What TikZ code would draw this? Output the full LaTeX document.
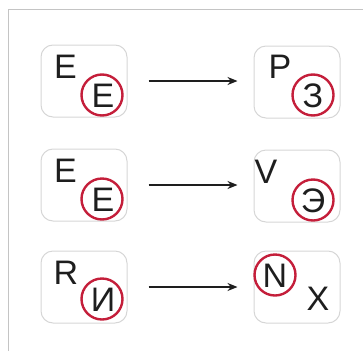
\documentclass[tikz,border=0pt]{standalone}
\usepackage{fontspec}
\setmainfont{Liberation Sans}
\usetikzlibrary{arrows.meta}
\definecolor{ringred}{HTML}{C41E3A}
\definecolor{boxgray}{HTML}{D6D6D6}
\definecolor{framegray}{HTML}{C4C4C4}
\definecolor{ink}{HTML}{1E1E1E}
\begin{document}
\begin{tikzpicture}[x=1pt,y=-1pt,
  box/.style={draw=boxgray, line width=1pt, rounded corners=12pt, minimum width=86pt, minimum height=72pt, inner sep=0pt},
  letter/.style={inner sep=0pt, text=ink, font=\fontsize{34}{34}\selectfont},
  ring/.style={draw=ringred, line width=2.4pt, circle, minimum size=41pt, inner sep=0pt},
  conn/.style={draw=ink, line width=1.3pt, -{Stealth[length=10pt,width=8pt]}, shorten <=21pt, shorten >=16pt}]
\useasboundingbox (0,0) rectangle (363,351);
\draw[framegray, line width=1pt] (8,351) -- (8,9) -- (363,9);
% boxes
\node[box] (L1) at (84,81) {};
\node[box] (R1) at (297,82) {};
\node[box] (L2) at (84,185) {};
\node[box] (R2) at (297,186) {};
\node[box] (L3) at (84,287) {};
\node[box] (R3) at (297,287) {};
% row 1
\node[letter] (a1) at (65.5,67) {E};
\node[ring] (c1) at (102,95) {};
\node[letter] (b1) at (103,96) {Е};
\node[letter] (p1) at (280,67) {P};
\node[ring] (c2) at (313,95) {};
\node[letter] (b2) at (313,96) {З};
% row 2
\node[letter] (a2) at (65.5,171) {E};
\node[ring] (c3) at (102,199) {};
\node[letter] (b3) at (103,200) {Е};
\node[letter] (p2) at (266,172) {V};
\node[ring] (c4) at (313,200) {};
\node[letter] (b4) at (313,201) {Э};
% row 3
\node[letter] (a3) at (66,273) {R};
\node[ring] (c5) at (102,299) {};
\node[letter] (b5) at (103,300) {И};
\node[ring] (c6) at (275,275) {};
\node[letter] (b6) at (275,275.5) {N};
\node[letter] (p3) at (318,299) {X};
% arrows
\draw[conn] (L1.east) -- (R1.west |- L1.east);
\draw[conn] (L2.east) -- (R2.west |- L2.east);
\draw[conn] (L3.east) -- (R3.west |- L3.east);
\end{tikzpicture}
\end{document}
